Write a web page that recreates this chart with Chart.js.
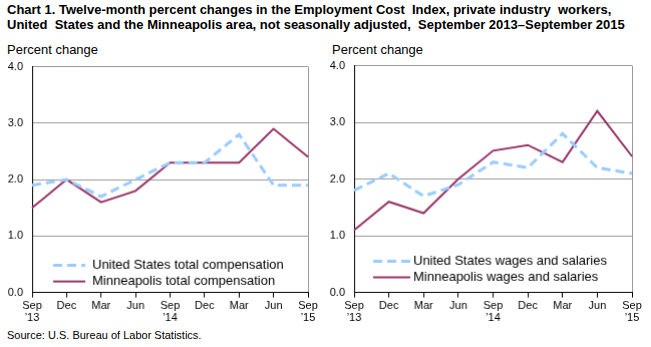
<!DOCTYPE html>
<html><head><meta charset="utf-8">
<script src="https://cdn.jsdelivr.net/npm/chart.js@4.4.1/dist/chart.umd.min.js"></script>
<style>
html,body{margin:0;padding:0;background:#fff;}
body{width:651px;height:347px;position:relative;overflow:hidden;font-family:"Liberation Sans",Arial,sans-serif;color:#000;}
.t{position:absolute;white-space:nowrap;}
#title{left:7px;top:2px;font-weight:bold;font-size:13px;line-height:15px;}
.pc{font-size:13px;top:42px;}
#src{left:7px;top:329px;font-size:11px;}
.wrap{position:absolute;}
canvas{position:absolute;left:0;top:0;}
</style></head><body>
<div id="title" class="t">Chart 1. Twelve-month percent changes in the Employment Cost&nbsp; Index, private industry&nbsp; workers,<br>United&nbsp; States and the Minneapolis area, not seasonally adjusted,&nbsp; September 2013–September 2015</div>
<div class="t pc" style="left:7px">Percent change</div>
<div class="t pc" style="left:332px">Percent change</div>
<div id="src" class="t">Source: U.S. Bureau of Labor Statistics.</div>
<div id="w1" class="wrap" style="left:0;top:60px;width:320px;height:272px;"><canvas id="c1"></canvas></div>
<div id="w2" class="wrap" style="left:320px;top:59px;width:331px;height:273px;"><canvas id="c2"></canvas></div>
<script>
const categories = [["Sep","’13"],"Dec","Mar","Jun",["Sep","’14"],"Dec","Mar","Jun",["Sep","’15"]];
const yTicks = [0,1,2,3,4];
const usTotalComp = [1.9,2.0,1.7,2.0,2.3,2.3,2.8,1.9,1.9];
const mspTotalComp = [1.5,2.0,1.6,1.8,2.3,2.3,2.3,2.9,2.4];
const usWages = [1.8,2.1,1.7,1.9,2.3,2.2,2.8,2.2,2.1];
const mspWages = [1.1,1.6,1.4,2.0,2.5,2.6,2.3,3.2,2.4];
const seriesNames1 = ["United States total compensation","Minneapolis total compensation"];
const seriesNames2 = ["United States wages and salaries","Minneapolis wages and salaries"];

const US_COLOR = '#99CCFF', MSP_COLOR = '#993366';
const FONT = '"Liberation Sans", Arial, sans-serif';

function legendPlugin(names, cfg){
  return {
    id:'ilegend',
    afterDatasetsDraw(chart){
      const ctx = chart.ctx, a = chart.chartArea;
      ctx.save();
      ctx.font = '13px ' + FONT;
      ctx.fillStyle = '#000';
      ctx.textBaseline = 'middle';
      const rows = [{y:a.bottom-cfg.y1, c:US_COLOR, d:[9,5], w:3},{y:a.bottom-cfg.y2, c:MSP_COLOR, d:[], w:2}];
      rows.forEach((r,i)=>{
        ctx.beginPath();
        ctx.setLineDash(r.d);
        ctx.strokeStyle = r.c; ctx.lineWidth = r.w;
        ctx.moveTo(a.left+cfg.x0, r.y); ctx.lineTo(a.left+cfg.x1, r.y); ctx.stroke();
        ctx.setLineDash([]);
        ctx.fillText(names[i], a.left+cfg.tx, r.y);
      });
      ctx.restore();
    }
  };
}

function makeChart(id, usData, mspData, names, yw, legCfg){
  return new Chart(document.getElementById(id), {
    type:'line',
    data:{labels:categories, datasets:[
      {label:names[0], data:usData, borderColor:US_COLOR, borderWidth:3, borderDash:[9,5], pointRadius:0, tension:0, fill:false},
      {label:names[1], data:mspData, borderColor:MSP_COLOR, borderWidth:2, pointRadius:0, tension:0, fill:false}
    ]},
    options:{
      responsive:true, maintainAspectRatio:false, animation:false, devicePixelRatio:1,
      layout:{padding:0},
      plugins:{legend:{display:false}, tooltip:{enabled:false}},
      scales:{
        x:{
          offset:false,
          grid:{color:(c)=> c.index===categories.length-1 ? '#999999':'rgba(0,0,0,0)', tickColor:'#000', tickLength:5, lineWidth:1},
          border:{color:'#000', width:1},
          ticks:{color:'#000', font:{size:11, family:FONT, lineHeight:1.1}, padding:2, maxRotation:0, autoSkip:false},
          afterFit(s){ s.height = 40; }
        },
        y:{
          min:0, max:4,
          afterBuildTicks(s){ s.ticks = yTicks.map(v=>({value:v})); },
          grid:{color:'#999999', drawTicks:false, lineWidth:1},
          border:{color:'#000', width:1},
          ticks:{color:'#000', font:{size:11, family:FONT}, padding:9, callback:v=>v.toFixed(1)},
          afterFit(s){ s.width = yw; }
        }
      }
    },
    plugins:[legendPlugin(names, legCfg)]
  });
}

function align(chart, wrapId, L, T, R, B){
  const w = document.getElementById(wrapId);
  for (let k=0;k<3;k++){
    const a = chart.chartArea;
    const rect = w.getBoundingClientRect();
    const curL = rect.left + a.left, curT = rect.top + a.top;
    const curW = a.right - a.left, curH = a.bottom - a.top;
    w.style.left = (rect.left + (L - curL)) + 'px';
    w.style.top = (rect.top + (T - curT)) + 'px';
    w.style.width = (rect.width + ((R-L) - curW)) + 'px';
    w.style.height = (rect.height + ((B-T) - curH)) + 'px';
    chart.resize();
  }
}

const ch1 = makeChart('c1', usTotalComp, mspTotalComp, seriesNames1, 32, {x0:21, x1:53, tx:60, y1:27, y2:11});
const ch2 = makeChart('c2', usWages, mspWages, seriesNames2, 34, {x0:19, x1:56, tx:59, y1:31, y2:15});
align(ch1, 'w1', 32, 67, 307, 292);
align(ch2, 'w2', 354, 66, 631, 292);
</script>
</body></html>
